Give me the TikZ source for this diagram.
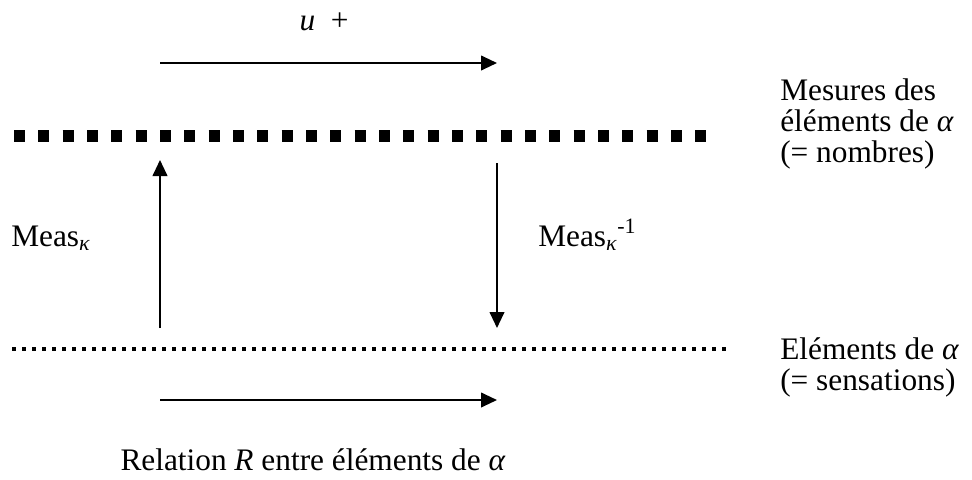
\documentclass[tikz,border=0pt]{standalone}
\usepackage{fontspec}
\setmainfont{Liberation Serif}
\usetikzlibrary{arrows.meta, positioning}

\begin{document}
\begin{tikzpicture}[x=0.75pt, y=-0.75pt,
  every node/.style={font=\fontsize{23.5}{23.3}\selectfont, inner sep=0pt},
  lbl/.style={anchor=base west},
  arr/.style={-{Triangle[length=12pt, width=11pt]}, line width=1.5pt},
  carres/.style={line width=9pt, dash pattern=on 8.25pt off 10pt},
  points/.style={line width=3pt, dash pattern=on 3pt off 4.5pt},
]
\useasboundingbox (0,0) rectangle (972,479);

\def\xG{160} \def\xD{497}

% Niveaux
\coordinate (nA) at (14,136);
\coordinate (nB) at (706,136);
\coordinate (sA) at (12,349);
\coordinate (sB) at (728,349);
\draw[carres] (nA) -- (nB);
\draw[points] (sA) -- (sB);

% Fleches horizontales
\coordinate (hA) at (\xG,63);  \coordinate (hB) at (\xD,63);
\coordinate (bA) at (\xG,400); \coordinate (bB) at (\xD,400);
\draw[arr] (hA) -- (hB);
\draw[arr] (bA) -- (bB);
\node[anchor=base] (loi) at (324,30) {\textit{u}\ \ +};
\node[anchor=base] (relation) at (313,470) {Relation \textit{R} entre éléments de \textit{α}};

% Fleches verticales
\coordinate (gA) at (\xG,328); \coordinate (gB) at (\xG,160);
\coordinate (dA) at (\xD,163); \coordinate (dB) at (\xD,328);
\draw[arr] (gA) -- (gB);
\draw[arr] (dA) -- (dB);
\node[lbl] (meas) at (11,246) {Meas\textsubscript{\itshape κ}};
\node[lbl] (measinv) at (538,246) {Meas\textsubscript{\itshape κ}\textsuperscript{-1}};

% Legendes
\node[lbl] (mes1) at (780,100) {Mesures des};
\node[lbl] (mes2) at (780,131) {éléments de \textit{α}};
\node[lbl] (mes3) at (780,162) {(= nombres)};
\node[lbl] (sen1) at (780,359) {Eléments de \textit{α}};
\node[lbl] (sen2) at (780,390) {(= sensations)};

\end{tikzpicture}
\end{document}
